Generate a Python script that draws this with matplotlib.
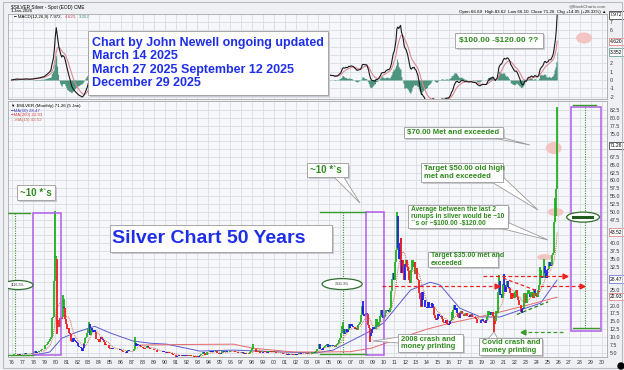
import numpy as np
import pandas as pd
import matplotlib.pyplot as plt
from matplotlib.patches import Ellipse, Rectangle, Polygon, Circle
from matplotlib.collections import LineCollection
from matplotlib.transforms import blended_transform_factory

plt.rcParams['font.family'] = ['Liberation Sans', 'DejaVu Sans']

# Monthly closes of $SILVER, Jan 1976 onwards
closes_1970s = [4.1, 4.3, 4.2, 4.6, 4.7, 4.6, 4.5, 4.3, 4.3, 4.4, 4.4, 4.4,
                4.5, 4.6, 4.7, 4.8, 4.6, 4.5, 4.4, 4.5, 4.6, 4.7, 4.8, 4.8,
                4.9, 5.1, 5.4, 5.0, 5.2, 5.3, 5.4, 5.5, 5.8, 6.0, 6.0, 6.0,
                6.3, 7.3, 7.5, 7.6, 8.3, 8.6, 9.3, 9.9, 16.0, 16.5, 18.5, 28.0]
closes_1980s = [36.0, 35.0, 15.5, 14.3, 13.3, 16.0, 15.8, 16.3, 22.0, 19.5, 19.3, 15.7,
                14.0, 12.5, 12.8, 11.3, 11.0, 8.8, 8.3, 9.6, 9.3, 9.1, 8.6, 8.3,
                8.0, 7.2, 6.9, 6.9, 6.6, 5.5, 6.5, 7.6, 8.1, 9.8, 9.9, 11.2,
                12.9, 14.3, 10.6, 12.8, 12.3, 11.7, 12.0, 12.3, 11.7, 9.5, 9.3, 9.0,
                8.5, 9.2, 10.1, 9.2, 9.1, 8.5, 7.3, 7.7, 7.4, 7.4, 7.3, 6.5,
                6.2, 6.0, 6.6, 6.2, 6.3, 6.1, 6.2, 6.2, 6.1, 6.2, 6.0, 5.9,
                5.9, 5.6, 5.3, 5.1, 5.3, 5.1, 5.0, 5.5, 5.7, 5.6, 5.4, 5.4,
                5.5, 5.5, 6.3, 8.4, 8.1, 7.1, 7.7, 7.4, 7.5, 7.2, 6.8, 6.7,
                6.4, 6.3, 6.5, 6.4, 6.5, 7.1, 6.7, 6.6, 6.3, 6.2, 6.3, 6.1,
                5.9, 5.9, 5.8, 5.7, 5.3, 5.3, 5.2, 5.2, 5.1, 5.2, 5.5, 5.2]
closes_1990s = [5.3, 5.1, 4.9, 5.1, 5.1, 4.9, 4.9, 4.8, 4.6, 4.3, 4.2, 4.2,
                3.9, 3.7, 4.0, 3.9, 4.1, 4.3, 4.1, 3.9, 4.1, 4.1, 4.0, 3.9,
                4.1, 4.1, 4.0, 4.0, 4.1, 4.0, 3.9, 3.8, 3.7, 3.8, 3.8, 3.7,
                3.7, 3.6, 3.8, 4.3, 4.6, 4.4, 5.3, 4.8, 4.1, 4.3, 4.8, 5.1,
                5.2, 5.3, 5.6, 5.3, 5.4, 5.3, 5.2, 5.3, 5.6, 5.1, 5.0, 4.9,
                4.7, 4.6, 4.8, 5.6, 5.4, 5.1, 5.2, 5.4, 5.5, 5.3, 5.2, 5.2,
                5.6, 5.5, 5.5, 5.4, 5.4, 5.1, 5.1, 5.2, 4.9, 4.8, 4.8, 4.8,
                4.8, 5.2, 5.0, 4.7, 4.8, 4.7, 4.4, 4.5, 4.7, 4.8, 5.1, 5.9,
                6.5, 6.2, 6.3, 6.2, 5.3, 5.3, 5.5, 5.2, 5.6, 5.0, 5.0, 5.0,
                5.2, 5.5, 5.1, 5.3, 5.0, 5.1, 5.4, 5.3, 5.5, 5.1, 5.2, 5.4]
closes_2000s = [5.2, 5.1, 5.0, 5.0, 5.0, 5.0, 4.9, 4.9, 4.9, 4.8, 4.7, 4.6,
                4.7, 4.5, 4.3, 4.4, 4.4, 4.3, 4.3, 4.2, 4.6, 4.2, 4.2, 4.6,
                4.3, 4.4, 4.6, 4.6, 4.9, 4.9, 4.7, 4.6, 4.6, 4.4, 4.5, 4.7,
                4.8, 4.6, 4.4, 4.6, 4.6, 4.5, 5.1, 5.0, 5.1, 5.0, 5.4, 6.0,
                6.3, 6.7, 7.9, 6.0, 6.1, 5.9, 6.6, 6.8, 7.0, 7.3, 7.6, 6.8,
                6.8, 7.4, 7.2, 7.0, 7.4, 7.1, 7.2, 6.8, 7.5, 7.7, 8.2, 8.9,
                9.6, 9.6, 11.4, 13.6, 12.4, 10.9, 11.3, 12.6, 11.5, 12.3, 14.1, 12.9,
                13.5, 14.0, 13.4, 13.3, 13.1, 12.5, 12.8, 12.1, 13.8, 14.2, 14.6, 14.8,
                16.9, 19.9, 17.3, 16.7, 16.9, 17.6, 17.3, 13.7, 12.9, 9.8, 10.2, 11.3,
                12.6, 13.1, 13.1, 12.5, 15.6, 13.6, 13.8, 14.9, 16.6, 16.4, 18.5, 16.9]
closes_2010s = [16.2, 16.3, 17.5, 18.6, 18.4, 18.7, 17.9, 19.3, 22.0, 24.6, 28.5, 30.6,
                28.2, 33.8, 37.9, 48.6, 38.4, 35.0, 40.0, 41.6, 30.5, 34.5, 32.7, 28.2,
                33.3, 34.6, 32.5, 31.2, 28.3, 27.4, 27.4, 31.5, 34.5, 32.3, 33.8, 30.0,
                31.9, 28.6, 28.3, 24.2, 22.2, 19.7, 19.9, 24.4, 21.7, 21.9, 19.5, 19.5,
                19.2, 21.2, 19.7, 19.1, 19.4, 21.0, 20.4, 19.5, 17.1, 16.2, 15.5, 15.7,
                17.2, 16.6, 16.6, 16.3, 16.8, 15.6, 14.7, 14.6, 14.5, 15.5, 14.1, 13.8,
                14.1, 15.0, 15.4, 18.0, 16.0, 18.7, 20.3, 18.7, 19.2, 17.7, 16.5, 16.0,
                17.5, 18.4, 18.2, 17.2, 17.4, 16.6, 16.7, 17.6, 16.6, 16.7, 16.5, 16.9,
                17.3, 16.4, 16.3, 16.4, 16.4, 16.1, 15.6, 14.5, 14.6, 14.6, 14.4, 15.5,
                15.9, 15.6, 15.1, 14.9, 14.6, 15.3, 16.4, 18.4, 17.0, 18.1, 17.0, 17.8]
closes_2020s = [18.0, 16.7, 14.1, 15.0, 18.2, 17.8, 24.3, 28.0, 23.4, 23.8, 22.6, 26.4,
                26.9, 26.7, 24.5, 25.9, 27.9, 26.1, 25.5, 24.0, 22.0, 24.0, 23.0, 23.3,
                22.4, 24.3, 25.1, 22.8, 21.7, 20.3, 20.3, 17.9, 19.0, 19.2, 21.4, 24.0,
                23.6, 20.9, 24.1, 25.0, 23.6, 22.8, 24.3, 24.1, 22.4, 22.9, 25.3, 24.1,
                23.0, 22.7, 25.0, 26.5, 31.3, 29.1, 29.0, 28.9, 31.2, 32.7, 30.6, 28.9,
                31.3, 31.7, 34.1, 32.6, 33.0, 36.1, 36.7, 40.7, 46.6, 48.7, 57.2, 71.26]

# monthly extremes (highs / lows) that stick out of the closes
wick_months = ['1980-01', '1980-03', '1980-09', '1983-02', '1987-04', '1998-02',
               '2006-05', '2008-03', '2008-10', '2011-04', '2020-03', '2020-08',
               '2021-02', '2022-09', '2024-05', '2024-10', '2025-10', '2025-12']
wick_prices = [50.4, 10.8, 23.5, 14.7, 10.0, 7.8,
               14.9, 21.4, 8.4, 49.8, 11.6, 29.9,
               30.1, 17.6, 32.5, 34.9, 54.5, 83.6]

# moving averages
ma50_years = [1978.0, 1979.5, 1980.6, 1982.0, 1983.6, 1985.0, 1987.1, 1988.7, 1990.2,
              1993.2, 1996.3, 2000.8, 2003.9, 2005.4, 2008.5, 2010.0, 2012.5, 2014.3,
              2015.2, 2017.0, 2018.9, 2020.7, 2022.5, 2024.4, 2025.9]
ma50_values = [4.2, 5.2, 9.6, 11.6, 13.4, 11.3, 8.7, 8.0, 7.7,
               5.5, 5.8, 5.2, 4.9, 5.8, 11.3, 14.4, 25.0, 27.5,
               26.6, 19.2, 16.4, 16.4, 18.6, 20.8, 28.2]
ma200_years = [1987.5, 1992.0, 1996.3, 1998.1, 2001.8, 2004.0, 2007.0, 2009.0,
               2011.5, 2014.0, 2016.1, 2018.5, 2020.7, 2023.0, 2025.9]
ma200_values = [7.4, 7.6, 7.7, 6.4, 5.2, 5.2, 5.3, 6.5,
                9.6, 12.5, 14.4, 16.2, 18.0, 20.0, 22.7]

years = list(range(1976, 2031))
price_ticks = np.arange(5.0, 83.0, 2.5)
macd_ticks = [-2, -1, 0, 1, 2, 3, 4, 5, 6, 7]

# last values shown in boxes on the right axes
price_boxes = [(71.26, '71.26', '#222222'), (43.52, '43.52', '#e07070'),
               (28.47, '28.47', '#5b5bd0'), (22.93, '22.93', '#e07070')]
macd_boxes = [(7.85, '7.972', '#222222'), (4.62, '4.620', '#e07070'),
              (3.352, '3.352', '#4d957f')]

# ---- indicators from the closes
closes = pd.Series(closes_1970s + closes_1980s + closes_1990s + closes_2000s
                   + closes_2010s + closes_2020s,
                   index=pd.date_range('1976-01-01', periods=600, freq='MS'))
xm = closes.index.year + (closes.index.month - 1) / 12
macd = closes.ewm(span=12, adjust=False).mean() - closes.ewm(span=26, adjust=False).mean()
signal = macd.ewm(span=9, adjust=False).mean()
hist = macd - signal
ema13 = closes.ewm(span=13, adjust=False).mean()
ma10 = closes.rolling(10).mean()

# Elder impulse colouring
up = (ema13.diff() > 0) & (hist.diff() > 0)
down = (ema13.diff() < 0) & (hist.diff() < 0)
bar_colors = np.where(up, '#22b022', np.where(down, '#ee1d1d', '#1f1fe6'))

W, H = 624, 370
fig = plt.figure(figsize=(W / 100, H / 100), dpi=100, facecolor='#eef0f3')


def rect(x0, y0, x1, y1):
    return [x0 / W, 1 - y1 / H, (x1 - x0) / W, (y1 - y0) / H]


ax_m = fig.add_axes(rect(8, 14, 607, 99))
ax_p = fig.add_axes(rect(8, 101, 607, 357))

for ax in (ax_m, ax_p):
    ax.set_facecolor('#f6f7fa')
    ax.set_xlim(1975.67, 2030.47)
    ax.set_xticks(years)
    ax.grid(True, color='#d9dce3', lw=0.6)
    ax.set_axisbelow(True)
    ax.yaxis.tick_right()
    ax.tick_params(length=0, labelsize=3.8, labelcolor='#333333', pad=2)
    for s in ax.spines.values():
        s.set_color('#a8a8a8')
        s.set_linewidth(0.6)


def tick_texts(ticks, boxes, gap, fmt):
    # a value box on the axis hides the tick labels below it
    return ['' if any(abs(t - b[0]) < gap for b in boxes) else fmt % t for t in ticks]


# ---- MACD panel
ax_m.set_ylim(-2.29, 7.95)
ax_m.set_yticks(macd_ticks)
ax_m.set_yticklabels(tick_texts(macd_ticks, macd_boxes, 0.75, '%d'))
ax_m.set_xticklabels([])
ax_m.fill_between(xm, 0, hist, step='mid', color='#4d957f', lw=0)
ax_m.plot(xm, signal, color='#e08794', lw=0.8)
ax_m.plot(xm, macd, color='#1a1a1a', lw=0.8)
ax_m.add_patch(Ellipse((2028.37, 5.06), 1.46, 1.33, fc='#f3c4c4', ec='none'))

# ---- price panel
ax_p.set_ylim(3.6, 85.4)
ax_p.set_yticks(price_ticks)
ax_p.set_yticklabels(tick_texts(price_ticks, price_boxes, 1.9, '%.1f'))
ax_p.set_xticklabels(['%02d' % (y % 100) for y in years])

prev = closes.shift(1).fillna(closes.iloc[0])
segs = [[(x, p), (x, c)] for x, p, c in zip(xm, prev, closes)]
seg_colors = list(bar_colors)
for m, w in zip(wick_months, wick_prices):
    i = closes.index.get_loc(pd.Timestamp(m + '-01'))
    segs.append([(xm[i], closes.iloc[i]), (xm[i], w)])
    seg_colors.append(bar_colors[i])
ax_p.add_collection(LineCollection(segs, colors=seg_colors, lw=1.3, zorder=3))

ax_p.plot(ma50_years, ma50_values, color='#5b5bd0', lw=0.7, zorder=2)
ax_p.plot(ma200_years, ma200_values, color='#e86a6a', lw=0.7, zorder=2)
ax_p.plot(xm, ma10, color='#c8704e', lw=0.7, ls=(0, (1, 1)), zorder=2)

# purple run-up boxes and green measuring lines
purple = '#b35ee8'
green = '#3a9a2a'
for x0, y0, w, h in [(1977.96, 4.2, 2.56, 45.4), (2008.42, 4.2, 1.65, 45.7),
                     (2027.18, 11.9, 2.74, 71.6)]:
    ax_p.add_patch(Rectangle((x0, y0), w, h, fill=False, ec=purple, lw=1.1, zorder=4))
for xa, xb, y in [(1975.67, 1977.7, 49.6), (1975.67, 1977.96, 4.3),
                  (2004.2, 2008.35, 49.9), (2004.2, 2008.42, 4.5),
                  (2027.36, 2029.5, 84.1), (2027.36, 2029.7, 12.85)]:
    ax_p.plot([xa, xb], [y, y], color=green, lw=1.0, zorder=4)
for x, ya, yb in [(1976.3, 49.6, 4.3), (2006.33, 49.9, 4.5), (2028.46, 83.5, 12.85)]:
    ax_p.plot([x, x], [ya, yb], color=green, lw=0.8, ls=(0, (1, 1.2)), zorder=4)

for (cx, cy), w, h, label in [((1976.59, 26.6), 2.74, 2.9, '1116.3%'),
                              ((2006.24, 26.9), 3.66, 3.5, '1331.3%'),
                              ((2028.28, 48.3), 3.0, 3.2, '')]:
    ax_p.add_patch(Ellipse((cx, cy), w, h, fc='white', ec='#2d6e2d', lw=0.9, zorder=5))
    if label:
        ax_p.text(cx, cy, label, fontsize=2.6, ha='center', va='center', color='#333333', zorder=6)
ax_p.plot([2027.4, 2029.1], [48.3, 48.3], color='#1f5a1f', lw=2.2, zorder=6)

for (cx, cy), w, h in [((2025.6, 70.36), 1.46, 3.83), ((2025.78, 49.9), 1.46, 2.56),
                       ((2024.77, 35.5), 1.37, 1.9)]:
    ax_p.add_patch(Ellipse((cx, cy), w, h, fc='#f3c4c4', ec='none', zorder=2))


def dashed_arrow(xa, ya, xb, yb, color, head=True):
    ax_p.plot([xa, xb], [ya, yb], color=color, lw=0.9, ls=(0, (3, 2)), zorder=5)
    if head:
        mk = '>' if xb > xa else '<'
        ax_p.plot(xb, yb, marker=mk, ms=3.5, color=color, mec=color, zorder=5)


dashed_arrow(2009.9, 26.3, 2020.4, 26.3, '#f02020')
dashed_arrow(2024.35, 26.3, 2028.2, 26.3, '#f02020')
dashed_arrow(2019.13, 29.5, 2026.63, 29.5, '#f02020')
dashed_arrow(2020.96, 28.8, 2024.35, 24.4, '#f02020', head=False)
dashed_arrow(2022.24, 17.2, 2025.08, 21.25, '#2a7a1e', head=False)
dashed_arrow(2026.45, 11.6, 2022.8, 11.6, '#3a9a2a')

# current values on the right axes
tr_p = blended_transform_factory(ax_p.transAxes, ax_p.transData)
for val, txt, ec in price_boxes:
    ax_p.text(1.005, val, txt, transform=tr_p, fontsize=3.6, va='center', ha='left',
              bbox=dict(boxstyle='square,pad=0.25', fc='white', ec=ec, lw=0.5), clip_on=False)
tr_m = blended_transform_factory(ax_m.transAxes, ax_m.transData)
for val, txt, ec in macd_boxes:
    ax_m.text(1.005, val, txt, transform=tr_m, fontsize=3.6, va='center', ha='left',
              bbox=dict(boxstyle='square,pad=0.25', fc='white', ec=ec, lw=0.5), clip_on=False)

# ---- overlay in pixel coordinates for headers and callout boxes
ov = fig.add_axes([0, 0, 1, 1], zorder=10)
ov.set_xlim(0, W)
ov.set_ylim(H, 0)
ov.axis('off')

ov.text(11, 7, '$SILVER Silver - Spot (EOD) CME', fontsize=3.4, va='center', parse_math=False)
ov.text(11, 11.5, '1-Jan-2026', fontsize=3.2, va='center')
ov.text(14, 17, '━ MACD(12,26,9) 7.972,', fontsize=3.2, va='center')
ov.text(65, 17, '4.620,', fontsize=3.2, va='center', color='#d04050')
ov.text(79, 17, '3.352', fontsize=3.2, va='center', color='#3d8f75')
ov.text(606, 6.5, '@StockCharts.com', fontsize=3.2, va='center', ha='right', color='#555555')
ov.text(606, 12.5, 'Open 66.69  High 83.62  Low 66.10  Close 71.26  Chg +14.05 (+28.33%) ▲',
        fontsize=3.2, va='center', ha='right')
ov.text(11, 106.5, '▼ $SILVER (Monthly) 71.26 (5 Jan)', fontsize=3.2, va='center', parse_math=False)
ov.text(11, 111, '━MA(50) 28.47', fontsize=3.2, va='center', color='#3c3cc0')
ov.text(11, 115, '━MA(200) 22.93', fontsize=3.2, va='center', color='#e04040')
ov.text(11, 119.5, '- -MA(10) 43.52', fontsize=3.2, va='center', color='#c8704e')

ov.add_patch(Rectangle((3, 2), 619, 366, fill=False, ec='#b8bcc4', lw=0.8))
ov.add_patch(Circle((621, 366), 3, color='black'))

GREEN_TXT = '#2f8a1f'


def box(x0, y0, x1, y1, text, color, size, tail=None, pad=3, lsp=1.15):
    ov.add_patch(Rectangle((x0 + 1.5, y0 + 1.5), x1 - x0, y1 - y0, fc='#c9cbd0', ec='none'))
    if tail:
        ov.add_patch(Polygon(tail, closed=True, fc='white', ec='#9a9a9a', lw=0.6))
    ov.add_patch(Rectangle((x0, y0), x1 - x0, y1 - y0, fc='white', ec='#9a9a9a', lw=0.6))
    ov.text(x0 + pad, (y0 + y1) / 2, text, color=color, fontsize=size, fontweight='bold',
            va='center', ha='left', linespacing=lsp, parse_math=False)


box(88, 31, 328, 95, 'Chart by John Newell ongoing updated\nMarch 14 2025\n'
    'March 27 2025 September 12 2025\nDecember 29 2025', '#1f2fe8', 9.0, pad=4, lsp=1.17)
box(455, 33, 543, 48, '$100.00 -$120.00 ??', GREEN_TXT, 6.0, pad=4)
box(110, 225, 332, 252, 'Silver Chart 50 Years', '#1f2fe8', 14, pad=2)
box(17, 185, 55, 200, '~10 *`s', GREEN_TXT, 7, pad=3)
box(307, 163, 348, 177, '~10 *`s', GREEN_TXT, 7, pad=3,
    tail=[(333, 176), (360, 203), (343, 176)])
box(404, 127, 503, 138, '$70.00 Met and exceeded', GREEN_TXT, 5.6, pad=3,
    tail=[(488, 137), (530, 145), (500, 137)])
box(421, 163, 503, 182, 'Target $50.00 old high\nmet and exceeded', GREEN_TXT, 5.6, pad=3,
    tail=[(490, 181), (538, 210), (502, 176)])
box(408, 205, 508, 228, 'Average between the last 2\nrunups in silver would be ~10\n'
    '``s or ~$100.00 -$120.00', GREEN_TXT, 4.8, pad=3, lsp=1.05,
    tail=[(495, 227), (548, 240), (507, 222)])
box(428, 252, 498, 267, 'Target $35.00 met and\nexceeded', GREEN_TXT, 5.0, pad=3)
box(398, 334, 463, 352, '2008 crash and\nmoney printing', GREEN_TXT, 5.4, pad=3,
    tail=[(399, 337), (373, 341), (399, 343)])
box(479, 338, 542, 355, 'Covid crash and\nmoney printing', GREEN_TXT, 5.4, pad=3,
    tail=[(488, 339), (494, 332), (498, 339)])

fig.savefig('out.png', dpi=100, facecolor=fig.get_facecolor())
